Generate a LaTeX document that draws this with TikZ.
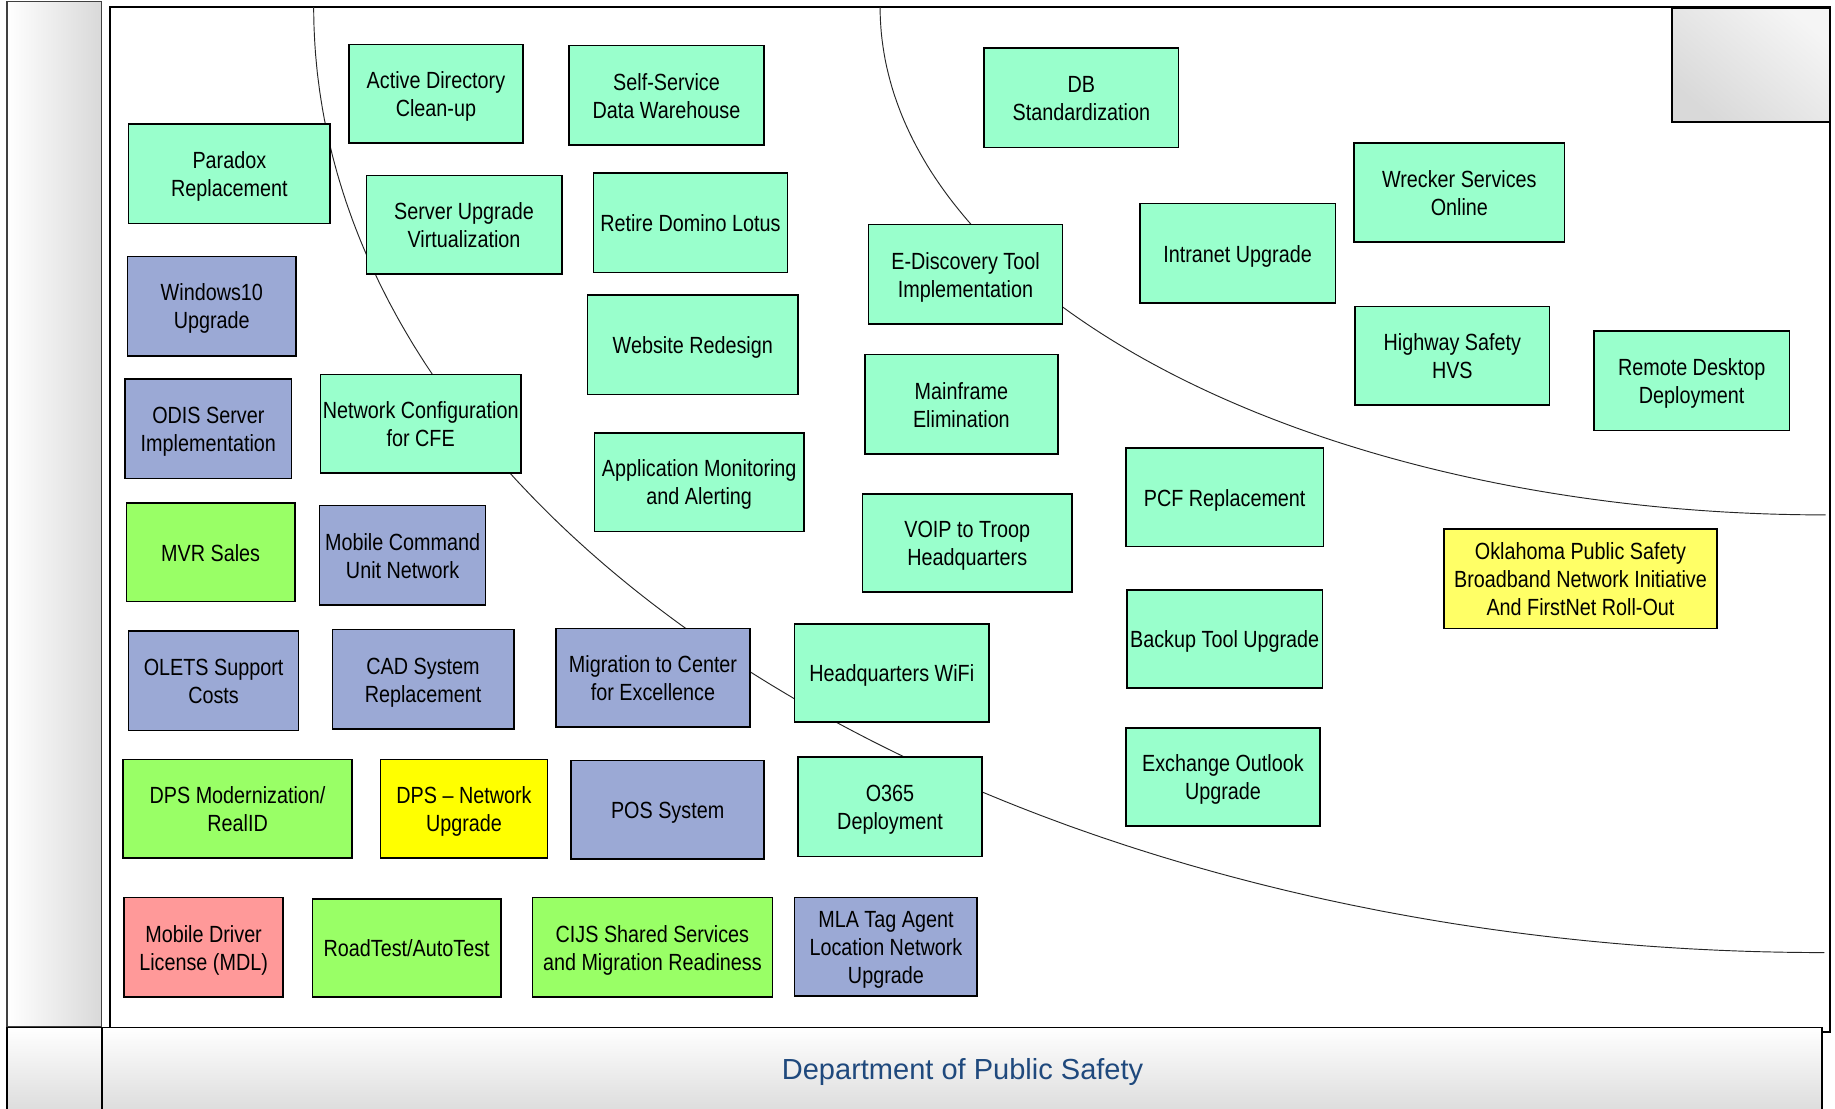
\documentclass[tikz,border=0pt]{standalone}
\usepackage{fontspec}
\setmainfont{Liberation Sans}[FakeStretch=0.845]
\newfontfamily\titlefont{Liberation Sans}
\definecolor{mint}{HTML}{99FFCC}
\definecolor{bluegray}{HTML}{9BA9D5}
\definecolor{lime}{HTML}{99FF66}
\definecolor{yel}{HTML}{FFFF00}
\definecolor{lightyel}{HTML}{FFFF66}
\definecolor{pinkbox}{HTML}{FF9999}
\definecolor{dpsblue}{HTML}{1F497D}
\newcommand\bxst{\rule[-4.4pt]{0pt}{23.8pt}}
\tikzset{
  box/.style={draw=black, line width=1.3pt, inner sep=1pt, align=center,
    font=\fontsize{20}{24}\selectfont, text=black},
  mintbox/.style={box, fill=mint},
  bluebox/.style={box, fill=bluegray},
  limebox/.style={box, fill=lime},
  yelbox/.style={box, fill=yel},
  lyelbox/.style={box, fill=lightyel},
  pinkbx/.style={box, fill=pinkbox},
  curve/.style={draw=black!85, line width=0.8pt},
  frameline/.style={draw=black, line width=1.8pt},
}
\newcommand\bx[7]{%
  \pgfmathsetmacro\bxw{#4-#2}\pgfmathsetmacro\bxh{#5-#3}%
  \pgfmathsetmacro\bxx{(#2+#4)/2}\pgfmathsetmacro\bxy{(#3+#5)/2}%
  \node[#6, minimum width=\bxw pt, minimum height=\bxh pt] (#1) at (\bxx,\bxy) {\bxst #7\bxst};}
\begin{document}
\begin{tikzpicture}[x=1pt,y=-1pt]
\useasboundingbox (0,0) rectangle (1568,947.6);
% left bar
\shade[left color=white, right color=black!15] (6,1) rectangle (87,877);
\draw[draw=black!75, line width=1pt] (6,1) rectangle (87,877);
% main frame
\draw[frameline, fill=white] (94,6) rectangle (1564,882);
% curves (elliptic arcs)
\coordinate (c1s) at (268,6);
\coordinate (c1e) at (1559,814);
\draw[curve] plot[domain=180:90, samples=160, variable=\t] ({1559+1291*cos(\t)},{6+808*sin(\t)});
\coordinate (c2s) at (752,6);
\coordinate (c2e) at (1560,440);
\draw[curve] plot[domain=180:90, samples=120, variable=\t] ({1560+808*cos(\t)},{6+434*sin(\t)});
% boxes
\bx{ad}{298}{38}{447}{122}{mintbox}{Active Directory\\Clean-up}
\bx{ssdw}{486}{39}{653}{124}{mintbox}{Self-Service\\Data Warehouse}
\bx{db}{841}{41}{1007}{126}{mintbox}{DB\\Standardization}
\bx{para}{110}{106}{282}{191}{mintbox}{Paradox\\Replacement}
\bx{serv}{313}{150}{480}{234}{mintbox}{Server Upgrade\\Virtualization}
\bx{dom}{507}{148}{673}{233}{mintbox}{Retire Domino Lotus}
\bx{win}{109}{219}{253}{304}{bluebox}{Windows10\\Upgrade}
\bx{edis}{742}{192}{908}{277}{mintbox}{E-Discovery Tool\\Implementation}
\bx{intra}{974}{174}{1141}{259}{mintbox}{Intranet Upgrade}
\bx{wreck}{1157}{122}{1337}{207}{mintbox}{Wrecker Services\\Online}
\bx{web}{502}{252}{682}{337}{mintbox}{Website Redesign}
\bx{hwy}{1158}{262}{1324}{346}{mintbox}{Highway Safety\\HVS}
\bx{rdp}{1362}{283}{1529}{368}{mintbox}{Remote Desktop\\Deployment}
\bx{odis}{107}{324}{249}{409}{bluebox}{ODIS Server\\Implementation}
\bx{netc}{274}{320}{445}{404}{mintbox}{Network Configuration\\for CFE}
\bx{mainf}{739}{303}{904}{388}{mintbox}{Mainframe\\Elimination}
\bx{appm}{508}{370}{687}{454}{mintbox}{Application Monitoring\\and Alerting}
\bx{pcf}{962}{383}{1131}{467}{mintbox}{PCF Replacement}
\bx{voip}{737}{422}{916}{506}{mintbox}{VOIP to Troop\\Headquarters}
\bx{mvr}{108}{430}{252}{514}{limebox}{MVR Sales}
\bx{mcu}{273}{432}{415}{517}{bluebox}{Mobile Command\\Unit Network}
\bx{okl}{1234}{452}{1467}{537}{lyelbox}{Oklahoma Public Safety\\Broadband Network Initiative\\And FirstNet Roll-Out}
\bx{bkp}{963}{504}{1130}{588}{mintbox}{Backup Tool Upgrade}
\bx{olets}{110}{539}{255}{624}{bluebox}{OLETS Support\\Costs}
\bx{cad}{284}{538}{439}{623}{bluebox}{CAD System\\Replacement}
\bx{mig}{475}{537}{641}{621}{bluebox}{Migration to Center\\for Excellence}
\bx{hqw}{679}{533}{845}{617}{mintbox}{Headquarters WiFi}
\bx{exch}{962}{622}{1128}{706}{mintbox}{Exchange Outlook\\Upgrade}
\bx{dpsm}{105}{649}{301}{733}{limebox}{DPS Modernization/\\RealID}
\bx{dpsn}{325}{649}{468}{733}{yelbox}{DPS – Network\\Upgrade}
\bx{pos}{488}{650}{653}{734}{bluebox}{POS System}
\bx{o365}{682}{647}{839}{732}{mintbox}{O365\\Deployment}
\bx{mdl}{106}{767}{242}{852}{pinkbx}{Mobile Driver\\License (MDL)}
\bx{road}{267}{768}{428}{852}{limebox}{RoadTest/AutoTest}
\bx{cijs}{455}{767}{660}{852}{limebox}{CIJS Shared Services\\and Migration Readiness}
\bx{mla}{679}{767}{835}{851}{bluebox}{MLA Tag Agent\\Location Network\\Upgrade}
% top-right gray box
\shade[top color=black!4, bottom color=black!15, shading angle=-40] (1429,7) rectangle (1564,104);
\draw[draw=black, line width=1.5pt] (1429,7) rectangle (1564,104);
% bottom bars
\shade[top color=white, bottom color=black!14] (87,878) rectangle (1557,952);
\shade[top color=white, bottom color=black!14] (6,878) rectangle (87,952);
\draw[draw=black, line width=1.5pt] (87,952) -- (87,878) -- (1557,878) -- (1557,952);
\draw[draw=black, line width=1.5pt] (6,952) -- (6,878) -- (87,878);
\node[font=\titlefont\fontsize{24.8}{29}\selectfont, text=dpsblue, anchor=base] (title) at (822.5,922.2) {Department of Public Safety};
\end{tikzpicture}
\end{document}
